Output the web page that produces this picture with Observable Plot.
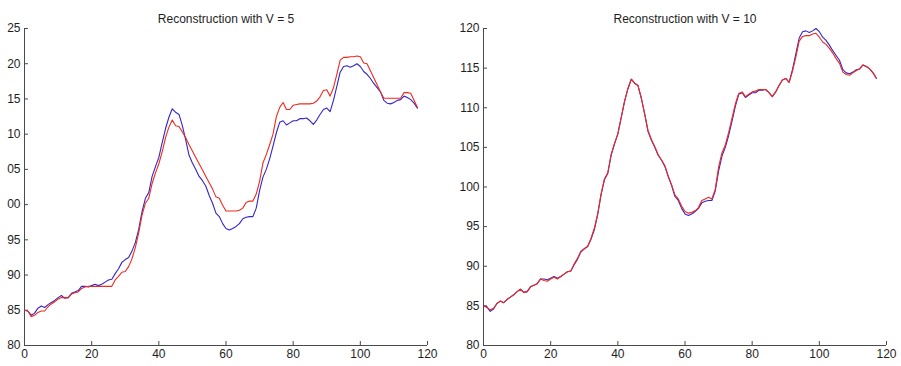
<!DOCTYPE html>
<html><head><meta charset="utf-8">
<script src="https://cdn.jsdelivr.net/npm/d3@7"></script>
<script src="https://cdn.jsdelivr.net/npm/@observablehq/plot@0.6"></script>
<style>
body{margin:0;background:#fff}
#wrap{display:flex;width:901px;height:366px;overflow:hidden}
#wrap svg{display:block}
</style>
</head><body><div id="wrap"></div>
<script>
// original signal (blue), one value per sample index 0..117
const original = [
85.0,84.9,84.3,84.6,85.3,85.6,85.4,85.8,86.1,86.4,
86.8,87.1,86.7,86.8,87.4,87.6,87.8,88.4,88.4,88.3,
88.5,88.7,88.5,88.7,89.0,89.3,89.4,90.2,90.9,91.8,
92.2,92.5,93.4,94.6,96.5,99.0,100.9,101.7,104.0,105.4,
106.7,108.8,110.8,112.4,113.6,113.1,112.8,111.2,109.2,107.0,
105.9,105.0,104.0,103.4,102.6,101.3,100.2,98.8,98.3,97.3,
96.6,96.4,96.6,96.9,97.3,98.0,98.2,98.3,98.3,99.5,
102.0,103.9,105.0,106.5,108.3,110.2,111.7,111.9,111.3,111.6,
111.9,111.9,112.2,112.2,112.3,111.9,111.4,112.0,112.8,113.5,
113.7,113.2,114.8,116.8,118.8,119.6,119.7,119.5,119.7,120.0,
119.6,118.9,118.5,117.9,117.2,116.6,116.0,114.8,114.4,114.3,
114.5,114.8,114.9,115.4,115.2,114.9,114.4,113.7];

// reconstruction with V = 5 (red, left)
const recon5 = [
85.0,84.9,84.1,84.3,84.7,84.9,84.9,85.5,85.9,86.2,
86.6,86.8,86.8,86.8,87.3,87.5,87.6,88.1,88.3,88.4,
88.4,88.4,88.4,88.4,88.4,88.4,88.4,89.3,89.8,90.4,
90.5,91.2,92.3,93.9,96.0,98.5,100.2,100.9,103.0,104.5,
105.8,107.5,109.5,111.0,112.0,111.2,111.1,110.3,109.5,108.5,
107.6,106.7,105.8,104.9,104.0,103.1,102.2,101.1,100.9,99.9,
99.1,99.1,99.1,99.1,99.2,99.5,100.3,100.5,100.5,101.5,
103.3,105.9,107.1,108.5,110.0,112.5,113.8,114.5,113.5,113.5,
114.1,114.2,114.3,114.3,114.3,114.3,114.4,114.7,115.3,116.2,
116.3,115.4,116.6,118.5,120.5,120.9,120.9,121.0,121.0,121.1,
121.0,120.1,120.0,119.0,118.0,117.0,116.0,115.1,115.1,115.1,
115.1,115.1,115.1,115.9,115.9,115.8,114.8,113.8];

// reconstruction with V = 10 (red, right)
const recon10 = [
85.0,84.8,84.5,84.7,85.3,85.6,85.4,85.8,86.1,86.4,
86.8,87.1,86.7,86.8,87.4,87.6,87.8,88.4,88.2,88.1,
88.4,88.6,88.4,88.7,89.0,89.3,89.4,90.3,91.0,91.9,
92.2,92.5,93.5,94.8,96.6,99.1,101.0,101.8,104.1,105.5,
106.7,108.7,110.8,112.4,113.6,113.1,112.8,111.2,109.2,107.1,
106.0,105.1,104.1,103.4,102.7,101.4,100.3,99.0,98.5,97.6,
96.9,96.7,96.8,97.0,97.4,98.3,98.5,98.7,98.5,99.7,
102.5,104.3,105.3,106.9,108.7,110.5,111.8,112.0,111.4,111.7,
112.0,112.1,112.3,112.3,112.3,111.9,111.4,112.0,112.8,113.5,
113.7,113.2,114.6,116.4,118.4,119.0,119.1,119.1,119.3,119.4,
118.9,118.3,118.0,117.5,116.9,116.2,115.6,114.5,114.2,114.1,
114.4,114.7,114.9,115.4,115.2,114.9,114.4,113.7];

const titles = ["Reconstruction with V = 5", "Reconstruction with V = 10"];
const xTicks = [0, 20, 40, 60, 80, 100, 120];
const yTicksLeft = [80, 85, 90, 95, 100, 105, 110, 115, 120, 125];
const yLabelsLeft = ["80", "85", "90", "95", "00", "05", "10", "15", "20", "25"];
const yTicksRight = [80, 85, 90, 95, 100, 105, 110, 115, 120];
const yLabelsRight = ["80", "85", "90", "95", "100", "105", "110", "115", "120"];

const blue = "#3524c8";
const red = "#ee2a1e";
const axisColor = "#4a4a4a";
const font = "'Liberation Sans', Arial, sans-serif";

function panel({width, marginLeft, marginRight, yDomain, yTicks, yLabels, recon, title}) {
  return Plot.plot({
    width, height: 366,
    marginLeft, marginRight, marginTop: 28, marginBottom: 21,
    style: {fontFamily: font, fontSize: "12px", color: "#1e1e1e", background: "#fff"},
    x: {domain: [0, 120]},
    y: {domain: yDomain},
    marks: [
      Plot.ruleX([0], {stroke: axisColor}),
      Plot.ruleY([yDomain[0]], {stroke: axisColor}),
      Plot.axisX({ticks: xTicks, tickSize: -4, tickPadding: 8, label: null, stroke: axisColor, fontSize: 12}),
      Plot.axisY({ticks: yTicks, tickSize: -4, tickPadding: 8, label: null, stroke: axisColor, fontSize: 12,
        tickFormat: d => yLabels[yTicks.indexOf(d)]}),
      Plot.lineY(original, {stroke: blue, strokeWidth: 1.1}),
      Plot.lineY(recon, {stroke: red, strokeWidth: 1.1}),
      Plot.text([title], {frameAnchor: "top", dy: -14, fontSize: 12, fill: "#1e1e1e"})
    ]
  });
}

const wrap = document.getElementById("wrap");
wrap.append(panel({width: 450, marginLeft: 24, marginRight: 23, yDomain: [80, 125],
  yTicks: yTicksLeft, yLabels: yLabelsLeft, recon: recon5, title: titles[0]}));
wrap.append(panel({width: 451, marginLeft: 33, marginRight: 15, yDomain: [80, 120],
  yTicks: yTicksRight, yLabels: yLabelsRight, recon: recon10, title: titles[1]}));
</script>
</body></html>
